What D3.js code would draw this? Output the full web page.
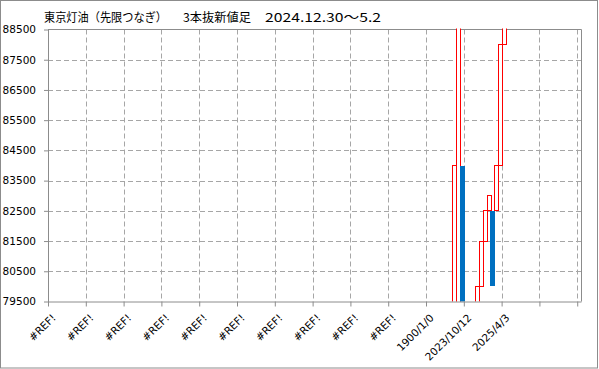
<!DOCTYPE html>
<html>
<head>
<meta charset="utf-8">
<script src="https://cdn.jsdelivr.net/npm/d3@7"></script>
<style>
  body { margin: 0; background: #fff; }
  svg { display: block; }
  text { font-family: "DejaVu Sans", "Noto Sans CJK JP", sans-serif; fill: #000; }
  .title { font-family: "Noto Sans CJK JP", sans-serif; }
</style>
</head>
<body>
<script>
// 3本抜新値足 (three line break) - Tokyo kerosene

const yTicks = [79500, 80500, 81500, 82500, 83500, 84500, 85500, 86500, 87500, 88500];
const xLabels = ["#REF!", "#REF!", "#REF!", "#REF!", "#REF!", "#REF!", "#REF!", "#REF!", "#REF!", "#REF!",
                 "1900/1/0", "2023/10/12", "2025/4/3", "", ""];

// brick position (slot), start price, end price
const brickSlot = [101.1, 102.1, 103.1, 106.75, 107.8, 108.8, 109.8, 110.55, 111.6, 112.6, 113.6];
const brickFrom = [79000, 79000, 84000, 79000, 80000, 81500, 82500, 82500, 82500, 84000, 88000];
const brickTo   = [84000, 89000, 79000, 80000, 81500, 82500, 83000, 80000, 84000, 88000, 89000];

const width = 599, height = 369;
const margin = {top: 29.5, right: 18, bottom: 67.5, left: 48};

const svg = d3.select("body").append("svg")
    .attr("width", width)
    .attr("height", height);

// outer frame
svg.append("rect")
    .attr("x", 0.5).attr("y", 0.5)
    .attr("width", 597).attr("height", 367.5)
    .attr("fill", "#fff")
    .attr("stroke", "#8c8c8c");

const y = d3.scaleLinear()
    .domain([79500, 88500])
    .range([height - margin.bottom, margin.top]);

// tick positions (category axis) and brick slots share the same range
const xt = d3.scaleLinear()
    .domain([0, 14.1])
    .range([margin.left, width - margin.right]);

const xs = d3.scaleLinear()
    .domain([0, 133.25])
    .range([margin.left, width - margin.right]);

// grid
svg.append("g")
    .selectAll("line")
    .data(yTicks.slice(1, -1))
    .join("line")
    .attr("x1", margin.left).attr("x2", width - margin.right)
    .attr("y1", d => Math.round(y(d)) + 0.5)
    .attr("y2", d => Math.round(y(d)) + 0.5)
    .attr("stroke", "#a6a6a6")
    .attr("stroke-dasharray", "5,3");

svg.append("g")
    .selectAll("line")
    .data(d3.range(1, xLabels.length))
    .join("line")
    .attr("x1", d => Math.round(xt(d)) + 0.5)
    .attr("x2", d => Math.round(xt(d)) + 0.5)
    .attr("y1", margin.top).attr("y2", height - margin.bottom)
    .attr("stroke", "#a6a6a6")
    .attr("stroke-dasharray", "5,3");

// plot border (top / right)
svg.append("path")
    .attr("d", `M${margin.left},${margin.top}H${width - margin.right + 0.5}V${height - margin.bottom}`)
    .attr("fill", "none")
    .attr("stroke", "#8c8c8c");

// bricks
svg.append("clipPath").attr("id", "plot")
    .append("rect")
    .attr("x", margin.left).attr("y", margin.top - 1)
    .attr("width", width - margin.left - margin.right)
    .attr("height", height - margin.top - margin.bottom + 1);

const bricks = brickSlot.map((s, i) => ({slot: s, from: brickFrom[i], to: brickTo[i], up: brickTo[i] > brickFrom[i]}));

svg.append("g")
    .attr("clip-path", "url(#plot)")
    .attr("shape-rendering", "crispEdges")
    .selectAll("rect")
    .data(bricks)
    .join("rect")
    .attr("x", d => xs(d.slot))
    .attr("y", d => y(Math.max(d.from, d.to)))
    .attr("width", d => d.up ? xs(d.slot + 1) - xs(d.slot) : xs(d.slot + 1.1) - xs(d.slot))
    .attr("height", d => y(Math.min(d.from, d.to)) - y(Math.max(d.from, d.to)))
    .attr("fill", d => d.up ? "#fff" : "#0070c0")
    .attr("stroke", d => d.up ? "#ff0000" : "none")
    .attr("stroke-width", 1);

// y axis
const yAxis = svg.append("g")
    .attr("transform", `translate(${margin.left},0)`)
    .call(d3.axisLeft(y).tickValues(yTicks).tickSize(4).tickSizeOuter(0).tickFormat(d3.format("d")));
yAxis.select(".domain").attr("stroke", "#8c8c8c");
yAxis.selectAll(".tick line").attr("stroke", "#8c8c8c");
yAxis.selectAll(".tick text")
    .attr("x", -12)
    .style("font-size", "10.5px")
    .style("font-family", "DejaVu Sans");

// x axis
const xAxis = svg.append("g")
    .attr("transform", `translate(0,${height - margin.bottom})`)
    .call(d3.axisBottom(xt).tickValues(d3.range(xLabels.length)).tickSize(5).tickSizeOuter(0)
        .tickFormat(i => xLabels[i]));
xAxis.select(".domain").attr("stroke", "#8c8c8c");
xAxis.selectAll(".tick line").attr("stroke", "#8c8c8c");
xAxis.selectAll(".tick text")
    .style("font-size", "10.5px")
    .style("font-family", "DejaVu Sans")
    .attr("text-anchor", "end")
    .attr("dy", null)
    .attr("y", 0)
    .attr("transform", "translate(8,17) rotate(-45)");

// title
const title = [
    {t: "東京灯油（先限つなぎ）", x: 44, len: 123},
    {t: "3本抜新値足", x: 183, len: 68},
    {t: "2024.12.30～5.2", x: 265, len: 116}
];
svg.append("g")
    .selectAll("text")
    .data(title)
    .join("text")
    .attr("class", "title")
    .attr("x", d => d.x)
    .attr("y", 21.5)
    .attr("textLength", d => d.len)
    .attr("lengthAdjust", "spacingAndGlyphs")
    .style("font-size", "12px")
    .text(d => d.t);
</script>
</body>
</html>
